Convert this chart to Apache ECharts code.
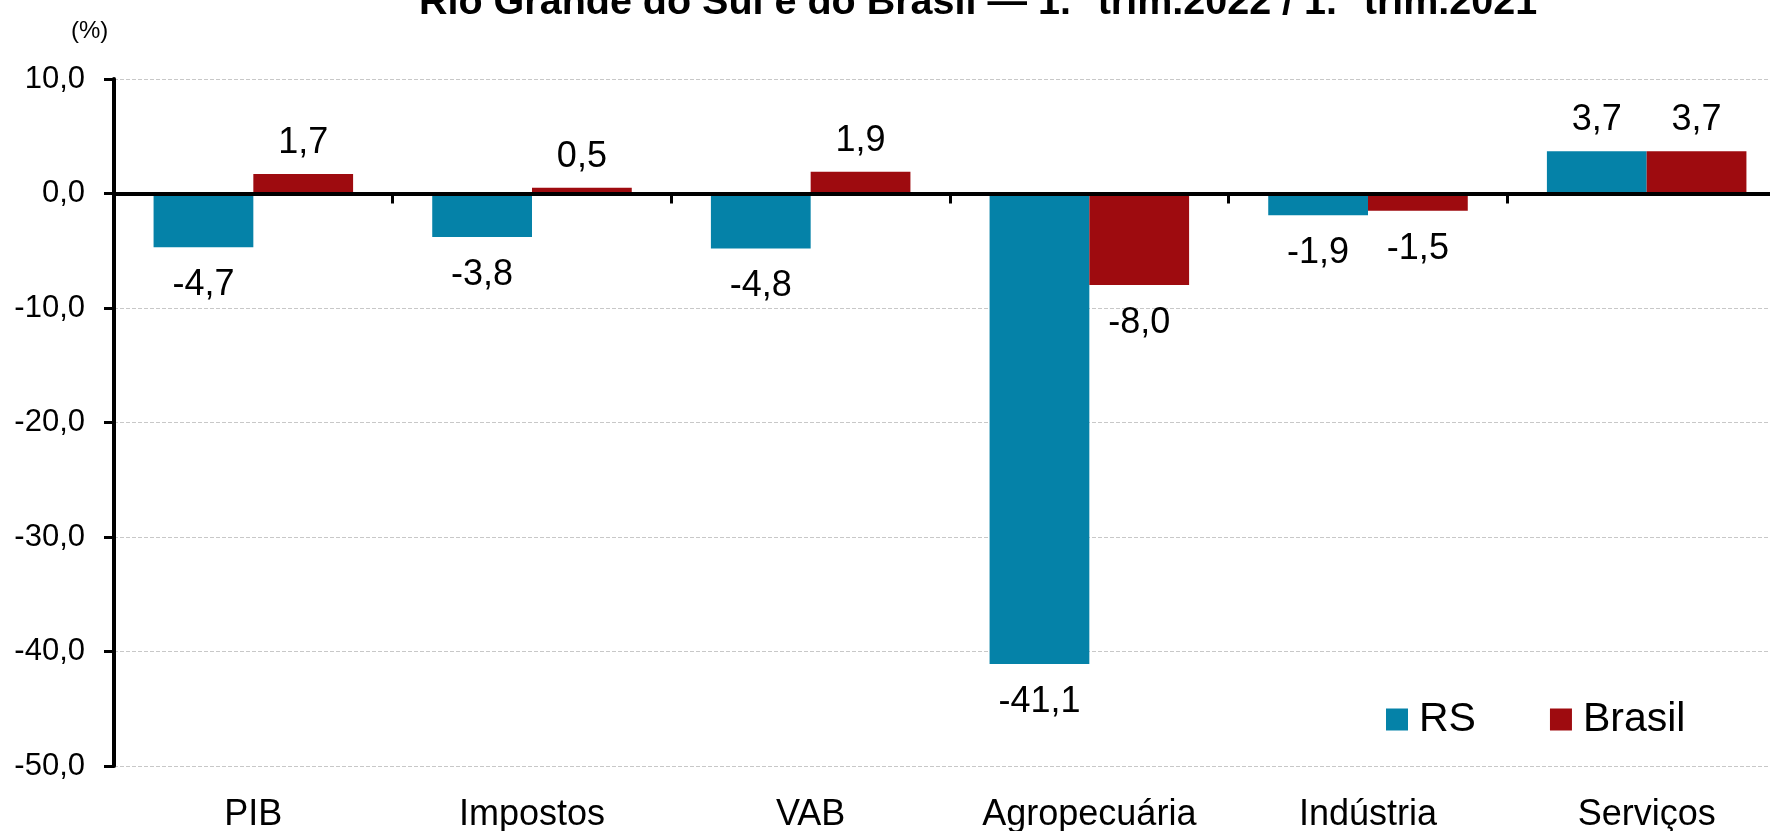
<!DOCTYPE html>
<html>
<head>
<meta charset="utf-8">
<script src="https://cdn.jsdelivr.net/npm/echarts@6/dist/echarts.min.js"></script>
<style>
  html, body { margin: 0; padding: 0; background: #fff; overflow: hidden; }
  #chart { width: 1770px; height: 831px; }
</style>
</head>
<body>
<div id="chart"></div>
<script>
// dados do gráfico
const categorias = ['PIB', 'Impostos', 'VAB', 'Agropecuária', 'Indústria', 'Serviços'];
const valoresRS = [-4.7, -3.8, -4.8, -41.1, -1.9, 3.7];
const valoresBrasil = [1.7, 0.5, 1.9, -8.0, -1.5, 3.7];
const nomesSeries = ['RS', 'Brasil'];
const coresSeries = ['#0582a8', '#9e0b0f'];

const fonte = '"Liberation Sans", Arial, sans-serif';
const fmt = v => v.toFixed(1).replace('.', ',');

// rótulo acima da barra se positivo, abaixo se negativo
function montaDados(valores) {
    return valores.map(v => ({
        value: v,
        label: v >= 0 ? { position: 'top', distance: 13 } : { position: 'bottom', distance: 20 }
    }));
}

const chart = echarts.init(document.getElementById('chart'));

const option = {
    animation: false,
    backgroundColor: '#fff',
    textStyle: { fontFamily: fonte },
    title: [
        {
            text: 'Rio Grande do Sul e do Brasil — 1.° trim.2022 / 1.° trim.2021',
            left: 414,
            top: -22,
            textStyle: { fontFamily: fonte, fontSize: 39.5, fontWeight: 'bold', color: '#000', lineHeight: 40 }
        },
        {
            text: '(%)',
            left: 66,
            top: 14,
            textStyle: { fontFamily: fonte, fontSize: 24, fontWeight: 'normal', color: '#000', lineHeight: 24 }
        }
    ],
    legend: {
        data: nomesSeries,
        left: 1381,
        top: 694,
        icon: 'rect',
        itemWidth: 22,
        itemHeight: 22,
        itemGap: 74,
        textStyle: { fontFamily: fonte, fontSize: 41, color: '#000', lineHeight: 41, padding: [0, 0, 0, 6] }
    },
    grid: { left: 114, top: 79, bottom: 65, width: 1672, outerBoundsMode: 'none', containLabel: false },
    xAxis: [
        {
            type: 'category',
            data: categorias,
            axisLine: { onZero: true, lineStyle: { color: '#000', width: 4 } },
            axisTick: { show: true, length: 10, lineStyle: { color: '#000', width: 3 } },
            axisLabel: { show: false },
            z: 5
        },
        {
            type: 'category',
            data: categorias,
            position: 'bottom',
            axisLine: { show: false, onZero: false },
            axisTick: { show: false },
            axisLabel: { interval: 0, fontFamily: fonte, fontSize: 36, color: '#000', margin: 31, lineHeight: 36 }
        }
    ],
    yAxis: {
        type: 'value',
        min: -50,
        max: 10,
        interval: 10,
        axisLine: { show: true, lineStyle: { color: '#000', width: 4 } },
        axisTick: { show: true, length: 10, lineStyle: { color: '#000', width: 3 } },
        axisLabel: { fontFamily: fonte, fontSize: 31, color: '#000', margin: 29, formatter: fmt },
        splitLine: { show: true, lineStyle: { color: '#c8c8c8', type: [4, 2], width: 1 } }
    },
    series: nomesSeries.map((nome, i) => ({
        name: nome,
        type: 'bar',
        xAxisIndex: 0,
        data: montaDados(i === 0 ? valoresRS : valoresBrasil),
        barWidth: '35.8%',
        barGap: '0%',
        itemStyle: { color: coresSeries[i] },
        label: {
            show: true,
            fontFamily: fonte,
            fontSize: 36,
            color: '#000',
            formatter: p => fmt(p.value)
        }
    }))
};

chart.setOption(option);
</script>
</body>
</html>
